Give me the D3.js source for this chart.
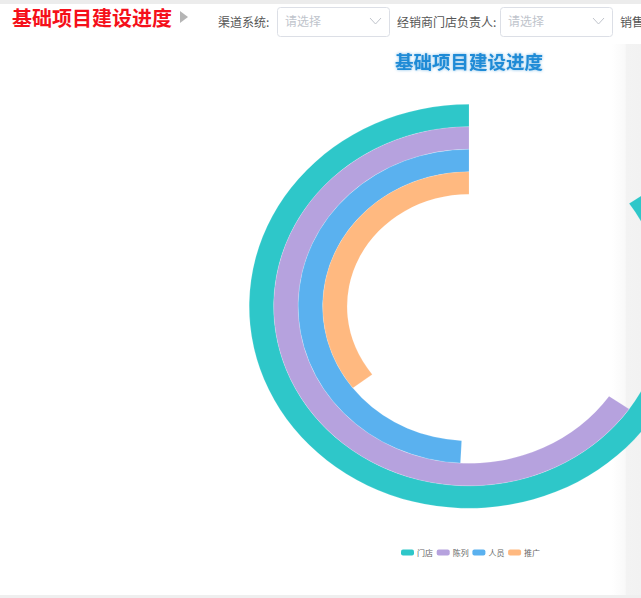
<!DOCTYPE html>
<html>
<head>
<meta charset="utf-8">
<script src="https://cdnjs.cloudflare.com/ajax/libs/d3/7.8.5/d3.min.js"></script>
<style>
  html, body { margin: 0; padding: 0; background: #fff; }
  svg { display: block; }
  text { font-family: "Noto Sans CJK SC", "Noto Sans", sans-serif; }
</style>
</head>
<body>
<svg id="chart" width="641" height="598"></svg>
<script>
// ---- data ----
const categories = ["门店", "陈列", "人员", "推广"];
const values = [84.7, 65.3, 49.2, 35.4];
const colors = ["#2ec7c9", "#b6a2de", "#5ab1ef", "#ffb980"];
const angleMax = 100;
const chartTitle = "基础项目建设进度";
const pageTitle = "基础项目建设进度";
const filterLabels = ["渠道系统:", "经销商门店负责人:", "销售"];
const placeholder = "请选择";

const svg = d3.select("#chart");

// page frame
svg.append("rect").attr("x", 0).attr("y", 0).attr("width", 641).attr("height", 4).attr("fill", "#ececec");
svg.append("rect").attr("x", 0).attr("y", 595).attr("width", 641).attr("height", 3).attr("fill", "#efefef");

// right side panel shadow
const defs = svg.append("defs");
const grad = defs.append("linearGradient").attr("id", "side").attr("x1", 0).attr("x2", 1).attr("y1", 0).attr("y2", 0);
grad.append("stop").attr("offset", "0%").attr("stop-color", "#ffffff");
grad.append("stop").attr("offset", "45%").attr("stop-color", "#f9f9f9");
grad.append("stop").attr("offset", "50%").attr("stop-color", "#f3f3f3");
grad.append("stop").attr("offset", "100%").attr("stop-color", "#f2f2f2");
svg.append("rect").attr("x", 612).attr("y", 44).attr("width", 29).attr("height", 551).attr("fill", "url(#side)");

// header
svg.append("text").attr("x", 12).attr("y", 26).attr("font-size", 20).attr("font-weight", "bold")
  .attr("fill", "#f5101a").text(pageTitle);
svg.append("path").attr("d", "M180,11 L188,17 L180,23 Z").attr("fill", "#b5b5b5");

const labelX = [218, 397, 620];
const boxX = [277, 500];
filterLabels.forEach((t, i) => {
  svg.append("text").attr("x", labelX[i]).attr("y", 27).attr("font-size", 12).attr("fill", "#555").text(t);
});
boxX.forEach(x => {
  svg.append("rect").attr("x", x + 0.5).attr("y", 7.5).attr("width", 112).attr("height", 29).attr("rx", 3)
    .attr("fill", "#fff").attr("stroke", "#dcdfe6");
  svg.append("text").attr("x", x + 8).attr("y", 26).attr("font-size", 12).attr("fill", "#c0c4cc").text(placeholder);
  svg.append("path").attr("d", `M${x + 93},18 L${x + 98.5},24 L${x + 104},18`).attr("fill", "none")
    .attr("stroke", "#c0c4cc").attr("stroke-width", 1);
});

// chart title
svg.append("text").attr("x", 469).attr("y", 69).attr("text-anchor", "middle").attr("font-size", 18.5)
  .attr("font-weight", "bold").attr("fill", "#1f8bd6")
  .style("filter", "drop-shadow(0px 0px 1.5px rgba(31,139,214,0.6))").text(chartTitle);

// polar bars
const cx = 469, cy = 306.3, sx = 1.088;
const rScale = d3.scaleBand().domain(categories.slice().reverse()).range([112, 202]).paddingInner(0).paddingOuter(0);
const aScale = d3.scaleLinear().domain([0, angleMax]).range([0, -2 * Math.PI]);
const arc = d3.arc();
const g = svg.append("g").attr("transform", `translate(${cx},${cy}) scale(${sx},1)`);
g.selectAll("path.bar").data(categories).enter().append("path").attr("class", "bar")
  .attr("d", (c, i) => arc({
    innerRadius: rScale(c),
    outerRadius: rScale(c) + rScale.bandwidth(),
    startAngle: 0,
    endAngle: aScale(values[i])
  }))
  .attr("fill", (c, i) => colors[i])
  .attr("stroke", "#ffffff").attr("stroke-opacity", 0.6).attr("stroke-width", 0.25);

// legend
const lg = svg.append("g");
categories.forEach((c, i) => {
  const x = 401 + i * 35.7;
  lg.append("rect").attr("x", x).attr("y", 549.5).attr("width", 13).attr("height", 6).attr("rx", 2).attr("fill", colors[i]);
  lg.append("text").attr("x", x + 16).attr("y", 555.5).attr("font-size", 8).attr("fill", "#666").text(c);
});
</script>
</body>
</html>
